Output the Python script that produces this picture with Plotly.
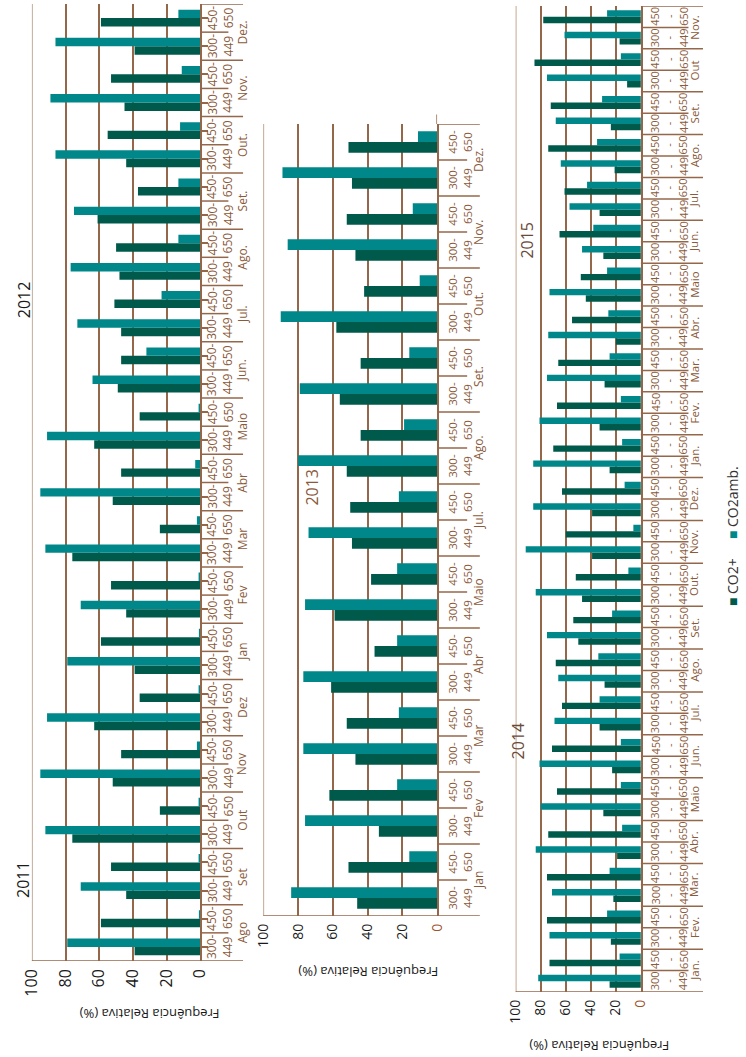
import plotly.graph_objects as go

W, H = 746, 1057

# ---------------------------------------------------------------- data
months_2011_12 = ["Ago", "Set", "Out", "Nov", "Dez",
                  "Jan", "Fev", "Mar", "Abr", "Maio", "Jun.", "Jul.",
                  "Ago.", "Set.", "Out.", "Nov.", "Dez."]
months_2013 = ["Jan", "Fev", "Mar", "Abr", "Maio", "Jul.",
               "Ago.", "Set.", "Out.", "Nov.", "Dez."]
months_2014_15 = ["Jan.", "Fev.", "Mar.", "Abr.", "Maio", "Jun.", "Jul.",
                  "Ago.", "Set.", "Out.", "Nov.", "Dez.",
                  "Jan.", "Fev.", "Mar.", "Abr.", "Maio", "Jun.", "Jul.",
                  "Ago.", "Set.", "Out", "Nov."]

ranges_two_line = ["300-<br>449", "450-<br>650"]
ranges_three_line = ["300<br>-<br>449", "450<br>-<br>650"]

# relative frequency (%), per month: [300-449, 450-650]
co2_plus_2011_12 = [39, 59, 44, 53, 76, 24, 52, 47, 63, 36,
                    39, 59, 44, 53, 76, 24, 52, 47, 63, 36,
                    49, 47, 47, 51, 48, 50, 61, 37, 44, 55,
                    45, 53, 39, 59]
co2_amb_2011_12 = [79, 0.3, 71, 1, 92, 1, 95, 2, 91, 1,
                   79, 0.3, 71, 1, 92, 2, 95, 3, 91, 1,
                   64, 32, 73, 23, 77, 13, 75, 13, 86, 12,
                   89, 11, 86, 13]

co2_plus_2013 = [46, 51, 33.5, 62, 47, 52, 61, 36, 59, 38, 49,
                 50, 52, 44, 56, 44, 58, 42, 47, 52, 49, 51]
co2_amb_2013 = [84, 16, 76, 23, 77, 22, 77, 23, 76, 23, 74,
                22, 80, 19, 79, 16, 90, 10, 86, 14, 89, 11]

co2_plus_2014_15 = [25, 73, 24, 75, 22, 75, 19, 74, 30, 67, 23, 71,
                    33, 63, 29, 68, 50, 54, 47, 52, 39, 60, 39, 63,
                    25, 70, 33, 67, 29, 66, 20, 55, 44, 48, 30, 65,
                    33, 61, 21, 74, 24, 72, 11, 85, 17, 78]
co2_amb_2014_15 = [82, 17, 73, 27, 71, 25, 84, 15, 80, 16, 81, 16,
                   69, 33, 66, 34, 75, 23, 84, 10, 92, 6, 86, 13,
                   86, 15, 81, 16, 75, 25, 74, 26, 73, 27, 47, 38,
                   57, 43, 64, 35, 68, 31, 75, 16, 61, 27]

value_ticks = [0, 20, 40, 60, 80, 100]

# ---------------------------------------------------------------- style
DARK = "#005a4c"
TEAL = "#00878a"
LINE = "#95674a"
TXT_BROWN = "#8a5a3b"
FONT = "Open Sans"

fig = go.Figure()

panels = [
    # plot-area edges in pixels; label / separator offsets in x-domain units
    dict(ax="", months=months_2011_12, ranges=ranges_two_line,
         plus=co2_plus_2011_12, amb=co2_amb_2011_12,
         left=20.5, right=194, top=4, bottom=961,
         sub_x=1.118, month_x=1.250, short_end=1.167, long_end=1.254,
         sub_size=12, month_size=12, tick_size=16, center_ticks=True,
         axis_overshoot=0.0,
         zero_color="#1a1a1a", title_x=142, title_y=1014),
    dict(ax="2", months=months_2013, ranges=ranges_two_line,
         plus=co2_plus_2013, amb=co2_amb_2013,
         left=259, right=438, top=124, bottom=916,
         sub_x=1.131, month_x=1.235, short_end=1.173, long_end=1.246,
         sub_size=11.5, month_size=12, tick_size=14, center_ticks=False,
         axis_overshoot=0.012,
         zero_color="#a0522d", title_x=367, title_y=972),
    dict(ax="3", months=months_2014_15, ranges=ranges_three_line,
         plus=co2_plus_2014_15, amb=co2_amb_2014_15,
         left=519, right=648, top=6, bottom=992,
         sub_x=1.225, month_x=1.426, short_end=1.38, long_end=1.496,
         sub_size=11, month_size=11.5, tick_size=14, center_ticks=False,
         axis_overshoot=0.0,
         zero_color="#a0522d", title_x=605, title_y=1046),
]

annotations = []
shapes = []

for p in panels:
    xa = "x" + p["ax"]
    ya = "y" + p["ax"]
    n = len(p["plus"])
    pos = list(range(n))

    fig.add_trace(go.Bar(y=pos, x=p["plus"], orientation="h", marker_color=DARK,
                         marker_line_width=0, name="CO2+", showlegend=False,
                         xaxis=xa, yaxis=ya))
    fig.add_trace(go.Bar(y=pos, x=p["amb"], orientation="h", marker_color=TEAL,
                         marker_line_width=0, name="CO2amb.", showlegend=False,
                         xaxis=xa, yaxis=ya))

    ticktext = [f'<span style="color:{p["zero_color"]}">0</span>'] + \
               [str(v) for v in value_ticks[1:]]
    xkey = "xaxis" + p["ax"]
    ykey = "yaxis" + p["ax"]
    fig.update_layout(**{
        xkey: dict(domain=[p["left"] / W, p["right"] / W], anchor=ya,
                   range=[100, 0], tickvals=value_ticks, ticktext=ticktext,
                   tickangle=-90, ticks="", showgrid=True, gridcolor=LINE,
                   gridwidth=1.5, zeroline=False, showline=False,
                   ticklabelstandoff=4,
                   tickfont=dict(family=FONT, size=p["tick_size"], color="#1a1a1a")),
        ykey: dict(domain=[1 - p["bottom"] / H, 1 - p["top"] / H], anchor=xa,
                   range=[-0.5, n - 0.5], side="right", showline=True,
                   linecolor=LINE, linewidth=1.5, showgrid=False, zeroline=False,
                   tickvals=pos, showticklabels=False,
                   ticks="outside" if p["center_ticks"] else "",
                   ticklen=6, tickcolor=LINE, tickwidth=1.5),
    })

    xdom = xa + " domain"
    ydom = ya + " domain"
    # outer value gridline at 100 %
    shapes.append(dict(type="line", xref=xa, yref=ydom, x0=100, x1=100, y0=0, y1=1,
                       line=dict(color="#b08c72", width=1.5)))
    # category axis line running a little past the last category
    if p["axis_overshoot"]:
        shapes.append(dict(type="line", xref=xa, yref=ydom, x0=0, x1=0, y0=1,
                           y1=1 + p["axis_overshoot"],
                           line=dict(color=LINE, width=1.5)))
    # category separators: month boundaries long, inner boundaries short
    for b in range(n + 1):
        yb = b - 0.5
        end = p["long_end"] if b % 2 == 0 else p["short_end"]
        start = 0 if b == 0 else 1
        shapes.append(dict(type="line", xref=xdom, yref=ya, x0=start, x1=end,
                           y0=yb, y1=yb, line=dict(color=LINE, width=1.5)))

    # sub-range and month labels
    for k in range(n):
        annotations.append(dict(xref=xdom, yref=ya, x=p["sub_x"], y=k,
                                text=p["ranges"][k % 2], showarrow=False,
                                textangle=-90, xanchor="center", yanchor="middle",
                                font=dict(family=FONT, size=p["sub_size"], color=TXT_BROWN)))
    for m, name in enumerate(p["months"]):
        annotations.append(dict(xref=xdom, yref=ya, x=p["month_x"], y=2 * m + 0.5,
                                text=name, showarrow=False, textangle=-90,
                                xanchor="center", yanchor="middle",
                                font=dict(family=FONT, size=p["month_size"], color=TXT_BROWN)))

    # value axis title
    annotations.append(dict(xref="paper", yref="paper", x=p["title_x"] / W,
                            y=1 - p["title_y"] / H, text="Frequência Relativa (%)",
                            showarrow=False, textangle=180, xanchor="center",
                            yanchor="middle",
                            font=dict(family=FONT, size=13, color="#1a1a1a")))

# year labels
years = [
    ("2011", "x domain", -0.049, "y", 2.4, "#1a1a1a"),
    ("2012", "x domain", -0.049, "y", 23.0, "#1a1a1a"),
    ("2013", "x2", 72, "y2", 11.4, "#8a5a3b"),
    ("2014", "x3", 98, "y3", 11.2, "#6b4a3a"),
    ("2015", "x3", 91, "y3", 34.6, "#6b4a3a"),
]
for txt, xr, xv, yr, yv, col in years:
    annotations.append(dict(xref=xr, yref=yr, x=xv, y=yv, text=txt,
                            showarrow=False, textangle=-90, xanchor="center",
                            yanchor="middle",
                            font=dict(family=FONT, size=16, color=col)))

# legend
annotations.append(dict(xref="paper", yref="paper", x=742 / W, y=1 - 582 / H,
                        text=f'<span style="color:{DARK}">■</span> CO2+',
                        showarrow=False, textangle=-90, xanchor="center",
                        yanchor="middle", font=dict(family=FONT, size=14, color="#333333")))
annotations.append(dict(xref="paper", yref="paper", x=742 / W, y=1 - 503 / H,
                        text=f'<span style="color:{TEAL}">■</span> CO2amb.',
                        showarrow=False, textangle=-90, xanchor="center",
                        yanchor="middle", font=dict(family=FONT, size=14, color="#333333")))

fig.update_layout(
    width=W, height=H,
    margin=dict(l=0, r=0, t=0, b=0),
    paper_bgcolor="white", plot_bgcolor="white",
    barmode="group", bargap=0.4, bargroupgap=0,
    showlegend=False,
    annotations=annotations,
    shapes=shapes,
    font=dict(family=FONT),
)

fig.write_html("out.html")
